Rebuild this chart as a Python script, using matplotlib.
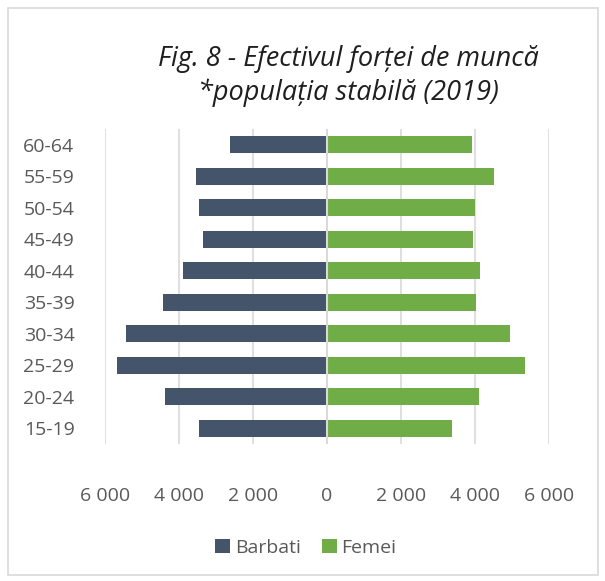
import matplotlib.pyplot as plt
import matplotlib.patches as mpatches
import numpy as np

grupe = ['15-19', '20-24', '25-29', '30-34', '35-39', '40-44', '45-49', '50-54', '55-59', '60-64']
barbati = [3470, 4390, 5680, 5440, 4420, 3880, 3340, 3450, 3550, 2610]
femei = [3380, 4110, 5360, 4950, 4030, 4140, 3940, 4000, 4510, 3920]
ticks = [-6000, -4000, -2000, 0, 2000, 4000, 6000]
tick_labels = ['6 000', '4 000', '2 000', '0', '2 000', '4 000', '6 000']

font = 'Open Sans'
gri = '#595959'

fig = plt.figure(figsize=(6.05, 5.81), dpi=100)
fig.patches.append(mpatches.Rectangle((8 / 605, 6 / 581), 590 / 605, 567 / 581,
                                      transform=fig.transFigure, fill=False,
                                      edgecolor='#d9d9d9', linewidth=1.2))

ax = fig.add_axes([105 / 605, 1 - 444 / 581, 444 / 605, 315 / 581])
y = np.arange(len(grupe))
ax.barh(y, [-v for v in barbati], height=0.55, color='#44546A', label='Barbati', zorder=3)
ax.barh(y, femei, height=0.55, color='#70AD47', label='Femei', zorder=3)

ax.set_xlim(-6000, 6000)
ax.set_ylim(-0.5, len(grupe) - 0.5)
ax.set_xticks(ticks)
ax.set_xticklabels(tick_labels, fontsize=14, color=gri, family=font)
ax.set_yticks(y)
ax.set_yticklabels(grupe, fontsize=14, color=gri, family=font)
ax.tick_params(length=0)
ax.tick_params(axis='x', pad=31)
ax.tick_params(axis='y', pad=22)
ax.grid(axis='x', color='#d9d9d9', linewidth=1.2, zorder=0)
ax.axvline(0, color='#d9d9d9', linewidth=1.5, zorder=4)
for s in ax.spines.values():
    s.set_visible(False)

fig.text(348 / 605, 1 - 76 / 581, 'Fig. 8 - Efectivul forței de muncă\n*populația stabilă (2019)',
         ha='center', va='center', fontsize=19.5, style='italic', family=font,
         color='#1f1f1f', linespacing=1.25)

fig.legend(loc='center', bbox_to_anchor=(306 / 605, 1 - 548 / 581), ncol=2, frameon=False,
           prop={'family': font, 'size': 14}, labelcolor=gri, handlelength=0.75,
           handleheight=0.75, handletextpad=0.25, columnspacing=1.1)

fig.savefig('out.png', dpi=100)
